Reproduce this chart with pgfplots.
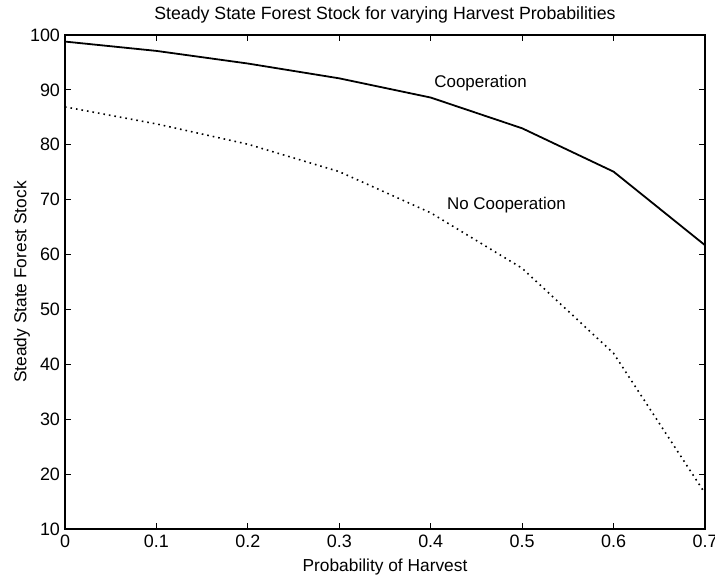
\documentclass[border=0pt]{standalone}
\usepackage{pgfplots}
\pgfplotsset{compat=1.18}
\usepackage{fontspec}
\setmainfont{Liberation Sans}
\begin{document}
\fontsize{8.5}{10}\selectfont
\begin{tikzpicture}
\begin{axis}[
  scale only axis,
  width=320bp, height=247bp,
  xmin=0, xmax=0.7, ymin=10, ymax=100,
  xtick={0,0.1,...,0.7},
  xticklabels={0,0.1,0.2,0.3,0.4,0.5,0.6,0.7},
  ytick={10,20,...,100},
  tick align=inside,
  major tick length=3bp,
  tick style={black, line width=0.6pt},
  axis line style={line width=0.8pt},
  /pgf/number format/assume math mode=true,
  ticklabel style={font=\fontsize{9}{10}\selectfont},
  yticklabel style={xshift=0.5bp},
  every axis title shift=0pt,
  title={Steady State Forest Stock for varying Harvest Probabilities},
  title style={font=\fontsize{8.9}{10}\selectfont, at={(axis description cs:0.5,1)}, anchor=center, yshift=10bp},
  xlabel={Probability of Harvest},
  ylabel={Steady State Forest Stock},
  label style={font=\fontsize{8.7}{10}\selectfont},
  xlabel style={at={(axis description cs:0.5,0)}, anchor=center, yshift=-19bp},
  ylabel style={at={(axis description cs:0,0.5)}, anchor=center, yshift=21.5bp},
]
\addplot[black, line width=0.9pt] coordinates {
 (0,98.8) (0.1,97.1) (0.2,94.8) (0.3,92.1) (0.4,88.6) (0.5,83.0) (0.6,75.1) (0.7,61.7)};
\addplot[black, dotted, line width=0.8pt] coordinates {
 (0,86.9) (0.1,83.8) (0.2,80.1) (0.3,75.1) (0.4,67.6) (0.5,57.5) (0.6,42.0) (0.7,16.5)};
\node[anchor=west, inner sep=0pt, font=\fontsize{8.5}{10}\selectfont] at (axis cs:0.4036,91.2) {Cooperation};
\node[anchor=west, inner sep=0pt, font=\fontsize{8.5}{10}\selectfont] at (axis cs:0.4175,69.0) {No Cooperation};
\end{axis}
\pgfresetboundingbox
\path ([xshift=-32.5bp,yshift=-23.5bp]current axis.south west) rectangle ([xshift=5bp,yshift=17.5bp]current axis.north east);
\end{tikzpicture}
\end{document}
